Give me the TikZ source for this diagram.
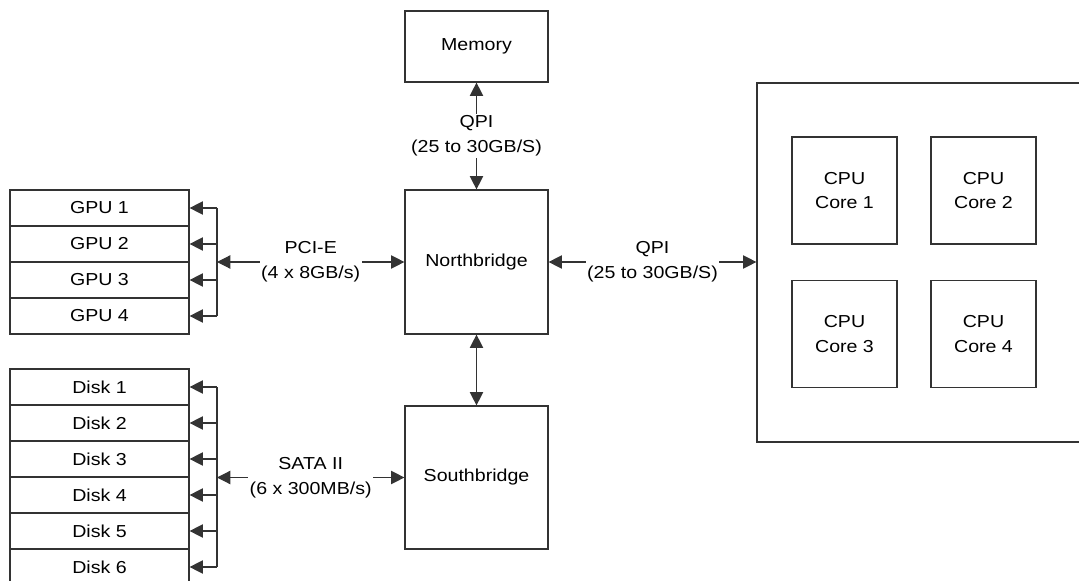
\documentclass[tikz,border=0pt]{standalone}
\usepackage{fontspec}
\setmainfont{Liberation Sans}[FakeStretch=1.13]
\usetikzlibrary{arrows.meta}

\tikzset{
  blk/.style={draw=black!80, line width=0.9pt, inner sep=0pt, align=center},
  slot/.style={blk, minimum width=134.25pt, minimum height=27pt},
  core/.style={blk, minimum width=78.75pt, minimum height=80.25pt},
  link/.style={draw=black!80, line width=0.9pt},
  tip/.style={link, -{Triangle[length=10pt,width=10pt]}},
  dtip/.style={link, {Triangle[length=10pt,width=10pt]}-{Triangle[length=10pt,width=10pt]}},
  rate/.style={fill=white, align=center, inner sep=1pt}
}

\begin{document}
\begin{tikzpicture}[x=0.75pt,y=-0.75pt,font=\fontsize{13}{18.5}\selectfont]
\useasboundingbox (0,0) rectangle (1079,581);
\clip (0,0) rectangle (1079,581);

% chipset
\node[blk, minimum width=107.25pt, minimum height=53.25pt] (mem) at (476.5,46.5) {Memory};
\node[blk, minimum width=107.25pt, minimum height=108pt] (nb) at (476.5,262) {Northbridge};
\node[blk, minimum width=107.25pt, minimum height=107.25pt] (sb) at (476.5,477.5) {Southbridge};

% processor, open on the right
\node[blk, minimum width=257.25pt, minimum height=269.25pt] (cpu) at (928.5,262.5) {};
\node[core] (c1) at (844.5,190.5) {CPU\\Core 1};
\node[core] (c2) at (983.5,190.5) {CPU\\Core 2};
\node[core] (c3) at (844.5,334) {CPU\\Core 3};
\node[core] (c4) at (983.5,334) {CPU\\Core 4};

% gpus and disks
\foreach \i in {1,...,4}
  \node[slot] (gpu\i) at (99.5,{208+36*(\i-1)}) {GPU \i};
\foreach \i in {1,...,6}
  \node[slot] (disk\i) at (99.5,{387+36*(\i-1)}) {Disk \i};

% buses
\coordinate (gbus) at (217,262);
\coordinate (dbus) at (217,477.5);
\draw[link] (gbus |- gpu1.east) -- (gbus |- gpu4.east);
\foreach \i in {1,...,4}
  \draw[tip] (gbus |- gpu\i.east) -- (gpu\i.east);
\draw[link] (dbus |- disk1.east) -- (dbus |- disk6.east);
\foreach \i in {1,...,6}
  \draw[tip] (dbus |- disk\i.east) -- (disk\i.east);

% links
\draw[dtip] (gbus) -- (nb.west) node[rate, midway] {PCI-E\\(4 x 8GB/s)};
\draw[dtip] (dbus) -- (sb.west) node[rate, midway] {SATA II\\(6 x 300MB/s)};
\draw[dtip] (mem) -- (nb) node[rate, midway] {QPI\\(25 to 30GB/S)};
\draw[dtip] (nb) -- (sb);
\draw[dtip] (nb.east) -- (cpu.west |- nb.east) node[rate, midway] {QPI\\(25 to 30GB/S)};
\end{tikzpicture}
\end{document}
